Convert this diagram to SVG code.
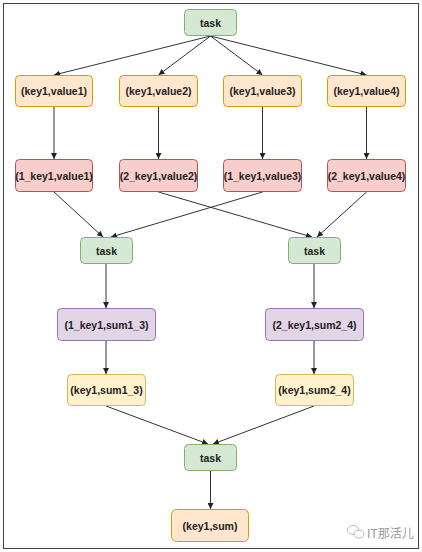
<svg xmlns="http://www.w3.org/2000/svg" width="422" height="552" viewBox="0 0 422 552">
<defs>
<marker id="arr" markerWidth="6" markerHeight="6" refX="6" refY="3" orient="auto" markerUnits="userSpaceOnUse">
<path d="M0,0 L6,3 L0,6 Z" fill="#222"/>
</marker>
<style>
text{font-family:"Liberation Sans",Arial,sans-serif;font-weight:bold;font-size:10.5px;fill:#222;text-anchor:middle;dominant-baseline:central}
.g{fill:#d5e8d4;stroke:#82b366}
.o{fill:#ffe6cc;stroke:#d79b00}
.r{fill:#f8cecc;stroke:#b85450}
.p{fill:#e1d5e7;stroke:#9673a6}
.y{fill:#fff2cc;stroke:#d6b656}
rect{stroke-width:1}
#edges line{stroke:#333;stroke-width:1;marker-end:url(#arr)}
.wm{font-family:"Noto Sans CJK SC",sans-serif;font-weight:normal;font-size:12px;fill:#999;text-anchor:start}
</style>
</defs>
<rect x="0" y="0" width="422" height="552" fill="#fff"/>
<rect x="3.5" y="3.5" width="415" height="545" fill="#fff" stroke="#444" stroke-width="1.5"/>
<g id="edges">
<line x1="210.5" y1="36" x2="54" y2="75"/>
<line x1="210.5" y1="36" x2="158.5" y2="75"/>
<line x1="210.5" y1="36" x2="262.5" y2="75"/>
<line x1="210.5" y1="36" x2="366.5" y2="75"/>
<line x1="54" y1="107" x2="54" y2="159"/>
<line x1="158.5" y1="107" x2="158.5" y2="159"/>
<line x1="262.5" y1="107" x2="262.5" y2="159"/>
<line x1="366.5" y1="107" x2="366.5" y2="159"/>
<line x1="54" y1="192" x2="103" y2="237"/>
<line x1="262.5" y1="192" x2="111" y2="237"/>
<line x1="158.5" y1="192" x2="312" y2="237"/>
<line x1="366.5" y1="192" x2="317" y2="237"/>
<line x1="106" y1="263" x2="106" y2="308"/>
<line x1="314" y1="263" x2="314" y2="308"/>
<line x1="106" y1="341" x2="106" y2="374"/>
<line x1="314" y1="341" x2="314" y2="374"/>
<line x1="106" y1="406" x2="208" y2="444"/>
<line x1="314" y1="406" x2="213" y2="444"/>
<line x1="210.5" y1="471" x2="210.5" y2="509"/>
</g>
<g id="task-top"><rect class="g" x="184.5" y="9.5" width="52" height="26" rx="4"/><text x="210.5" y="22.5">task</text></g>
<g id="kv1"><rect class="o" x="15.5" y="75.5" width="77" height="31" rx="4"/><text x="54" y="91">(key1,value1)</text></g>
<g id="kv2"><rect class="o" x="119.5" y="75.5" width="78" height="31" rx="4"/><text x="158.5" y="91">(key1,value2)</text></g>
<g id="kv3"><rect class="o" x="223.5" y="75.5" width="78" height="31" rx="4"/><text x="262.5" y="91">(key1,value3)</text></g>
<g id="kv4"><rect class="o" x="327.5" y="75.5" width="78" height="31" rx="4"/><text x="366.5" y="91">(key1,value4)</text></g>
<g id="pk1"><rect class="r" x="15.5" y="159.5" width="77" height="32" rx="4"/><text x="54" y="175.5">(1_key1,value1)</text></g>
<g id="pk2"><rect class="r" x="119.5" y="159.5" width="78" height="32" rx="4"/><text x="158.5" y="175.5">(2_key1,value2)</text></g>
<g id="pk3"><rect class="r" x="223.5" y="159.5" width="78" height="32" rx="4"/><text x="262.5" y="175.5">(1_key1,value3)</text></g>
<g id="pk4"><rect class="r" x="327.5" y="159.5" width="78" height="32" rx="4"/><text x="366.5" y="175.5">(2_key1,value4)</text></g>
<g id="task-left"><rect class="g" x="80.5" y="237.5" width="52" height="26" rx="4"/><text x="106.5" y="250.5">task</text></g>
<g id="task-right"><rect class="g" x="288.5" y="237.5" width="52" height="26" rx="4"/><text x="314.5" y="250.5">task</text></g>
<g id="sum13"><rect class="p" x="57.5" y="308.5" width="98" height="32" rx="4"/><text x="106.5" y="324.5">(1_key1,sum1_3)</text></g>
<g id="sum24"><rect class="p" x="265.5" y="308.5" width="98" height="32" rx="4"/><text x="314.5" y="324.5">(2_key1,sum2_4)</text></g>
<g id="ks13"><rect class="y" x="67.5" y="374.5" width="78" height="31" rx="4"/><text x="106.5" y="390">(key1,sum1_3)</text></g>
<g id="ks24"><rect class="y" x="275.5" y="374.5" width="78" height="31" rx="4"/><text x="314.5" y="390">(key1,sum2_4)</text></g>
<g id="task-bottom"><rect class="g" x="184.5" y="444.5" width="52" height="26" rx="4"/><text x="210.5" y="457.5">task</text></g>
<g id="result"><rect class="o" x="171.5" y="509.5" width="77" height="32" rx="5"/><text x="210" y="525.5">(key1,sum)</text></g>
<g id="watermark">
<ellipse cx="353" cy="530" rx="5.5" ry="4.5" fill="none" stroke="#bbb" stroke-width="1"/>
<ellipse cx="359" cy="534" rx="5" ry="4" fill="#fff" stroke="#bbb" stroke-width="1"/>
<text class="wm" x="367" y="532">IT那活儿</text>
</g>
</svg>
